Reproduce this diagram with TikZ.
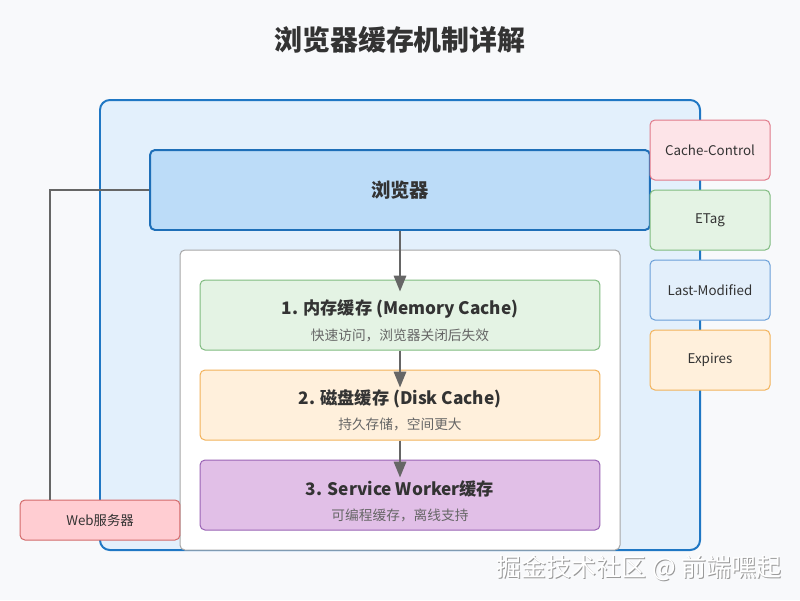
\documentclass[tikz,border=0pt]{standalone}
\usepackage{fontspec}
\setmainfont{Noto Sans CJK SC}
\usetikzlibrary{arrows.meta}
\definecolor{pagebg}{HTML}{F8F9FB}
\definecolor{outerfill}{HTML}{E3F0FC}
\definecolor{outerline}{HTML}{1F77C4}
\definecolor{browserfill}{HTML}{BCDCF8}
\definecolor{browserline}{HTML}{1E6FB8}
\definecolor{memfill}{HTML}{E4F3E4}
\definecolor{memline}{HTML}{80BB80}
\definecolor{diskfill}{HTML}{FFF0DC}
\definecolor{diskline}{HTML}{F2B25A}
\definecolor{swfill}{HTML}{E1BFE7}
\definecolor{swline}{HTML}{9A63B5}
\definecolor{ccfill}{HTML}{FDE4E8}
\definecolor{ccline}{HTML}{E07A8A}
\definecolor{lmfill}{HTML}{E3EFFB}
\definecolor{lmline}{HTML}{6A9FD8}
\definecolor{webfill}{HTML}{FFCDD2}
\definecolor{webline}{HTML}{D36A6A}
\definecolor{txt}{HTML}{333333}
\definecolor{subtxt}{HTML}{666666}
\definecolor{flowgray}{HTML}{666666}
\begin{document}
\begin{tikzpicture}[x=0.02cm,y=-0.02cm,
	box/.style={rounded corners=2.8pt,line width=0.57pt,font=\fontsize{7.6}{9}\selectfont,text=txt},
	cachebox/.style={box,minimum width=8cm,minimum height=1.4cm},
	headerbox/.style={box,minimum width=2.4cm,minimum height=1.2cm},
	flow/.style={-{Triangle[length=9pt,width=7pt]},line width=1.13pt,draw=flowgray},
	ttl/.style={font=\bfseries\fontsize{9.8}{12}\selectfont,text=txt},
	sub/.style={font=\fontsize{7.8}{9}\selectfont,text=subtxt}]
	\fill[pagebg] (0,0) rectangle (800,600);
	\node[font=\bfseries\fontsize{15.9}{19}\selectfont,text=txt] (title) at (400,40) {浏览器缓存机制详解};
	\draw[outerline,fill=outerfill,line width=1.13pt,rounded corners=5.6pt] (100,100) rectangle (700,550);
	\node[box,draw=browserline,fill=browserfill,line width=1.13pt,minimum width=10cm,minimum height=1.6cm,font=\bfseries\fontsize{11}{13}\selectfont] (browser) at (400,190) {浏览器};
	\draw[gray!70,fill=white,line width=0.57pt,rounded corners=2.8pt] (180,250) rectangle (620,550);
	\node[cachebox,draw=memline,fill=memfill] (memory) at (400,315) {};
	\node[ttl] at (400,309) {1. 内存缓存 (Memory Cache)};
	\node[sub] at (400,335) {快速访问，浏览器关闭后失效};
	\node[cachebox,draw=diskline,fill=diskfill] (disk) at (400,405) {};
	\node[ttl] at (400,399) {2. 磁盘缓存 (Disk Cache)};
	\node[sub] at (400,424) {持久存储，空间更大};
	\node[cachebox,draw=swline,fill=swfill] (sw) at (400,495) {};
	\node[ttl] at (400,489) {3. Service Worker缓存};
	\node[sub] at (400,515) {可编程缓存，离线支持};
	\draw[flow] (browser.south) -- ([yshift=-12*0.02cm]memory.north);
	\draw[flow] (memory.south) -- ([yshift=-18*0.02cm]disk.north);
	\draw[flow] (disk.south) -- ([yshift=-18*0.02cm]sw.north);
	\node[headerbox,draw=ccline,fill=ccfill] (cc) at (710,150) {Cache-Control};
	\node[headerbox,draw=memline,fill=memfill] (etag) at (710,220) {ETag};
	\node[headerbox,draw=lmline,fill=lmfill] (lm) at (710,290) {Last-Modified};
	\node[headerbox,draw=diskline,fill=diskfill] (exp) at (710,360) {Expires};
	\node[box,draw=webline,fill=webfill,minimum width=3.2cm,minimum height=0.8cm] (web) at (100,520) {Web服务器};
	\draw[flowgray,line width=1.13pt] (browser.west) -| (web.north -| 50,0);
	\node[font=\fontsize{14.2}{17}\selectfont,text=gray!80] at (640,568.8) {掘金技术社区 @ 前端嘿起};
	\node[font=\fontsize{14.2}{17}\selectfont,text=white] (mark) at (639,568) {掘金技术社区 @ 前端嘿起};
\end{tikzpicture}
\end{document}
